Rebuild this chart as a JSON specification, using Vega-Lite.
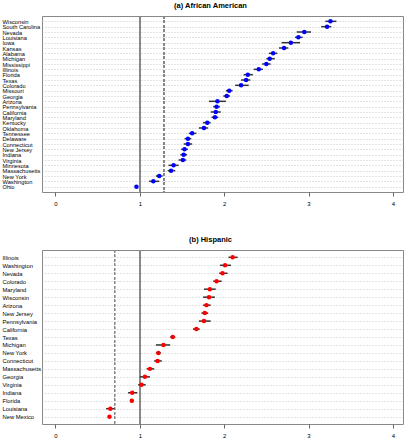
{
  "$schema": "https://vega.github.io/schema/vega-lite/v6.json",
  "background": "white",
  "padding": {"left": 1, "top": 1, "right": 4, "bottom": 0},
  "config": {
    "font": "Liberation Sans",
    "view": {"stroke": "#888888", "strokeWidth": 1},
    "title": {"fontSize": 7.5, "fontWeight": "bold", "color": "black", "anchor": "middle", "dx": -12, "offset": 6},
    "concat": {"spacing": 28}
  },
  "datasets": {
    "aa": [
      {"state": "Wisconsin", "est": 3.26, "lo": 3.20, "hi": 3.33},
      {"state": "South Carolina", "est": 3.22, "lo": 3.15, "hi": 3.27},
      {"state": "Nevada", "est": 2.95, "lo": 2.86, "hi": 3.03},
      {"state": "Louisiana", "est": 2.88, "lo": 2.84, "hi": 2.93},
      {"state": "Iowa", "est": 2.79, "lo": 2.68, "hi": 2.90},
      {"state": "Kansas", "est": 2.71, "lo": 2.65, "hi": 2.76},
      {"state": "Alabama", "est": 2.58, "lo": 2.53, "hi": 2.63},
      {"state": "Michigan", "est": 2.54, "lo": 2.50, "hi": 2.60},
      {"state": "Mississippi", "est": 2.50, "lo": 2.45, "hi": 2.55},
      {"state": "Illinois", "est": 2.41, "lo": 2.35, "hi": 2.46},
      {"state": "Florida", "est": 2.28, "lo": 2.23, "hi": 2.34},
      {"state": "Texas", "est": 2.26, "lo": 2.20, "hi": 2.31},
      {"state": "Colorado", "est": 2.20, "lo": 2.13, "hi": 2.29},
      {"state": "Missouri", "est": 2.06, "lo": 2.02, "hi": 2.10},
      {"state": "Georgia", "est": 2.03, "lo": 1.99, "hi": 2.07},
      {"state": "Arizona", "est": 1.92, "lo": 1.82, "hi": 2.02},
      {"state": "Pennsylvania", "est": 1.91, "lo": 1.87, "hi": 1.95},
      {"state": "California", "est": 1.90, "lo": 1.84, "hi": 1.96},
      {"state": "Maryland", "est": 1.89, "lo": 1.85, "hi": 1.93},
      {"state": "Kentucky", "est": 1.80, "lo": 1.75, "hi": 1.84},
      {"state": "Oklahoma", "est": 1.76, "lo": 1.70, "hi": 1.81},
      {"state": "Tennessee", "est": 1.62, "lo": 1.58, "hi": 1.67},
      {"state": "Delaware", "est": 1.57, "lo": 1.53, "hi": 1.61},
      {"state": "Connecticut", "est": 1.57, "lo": 1.52, "hi": 1.62},
      {"state": "New Jersey", "est": 1.53, "lo": 1.49, "hi": 1.57},
      {"state": "Indiana", "est": 1.52, "lo": 1.48, "hi": 1.56},
      {"state": "Virginia", "est": 1.51, "lo": 1.46, "hi": 1.55},
      {"state": "Minnesota", "est": 1.40, "lo": 1.34, "hi": 1.46},
      {"state": "Massachusetts", "est": 1.37, "lo": 1.33, "hi": 1.42},
      {"state": "New York", "est": 1.23, "lo": 1.19, "hi": 1.27},
      {"state": "Washington", "est": 1.16, "lo": 1.11, "hi": 1.23},
      {"state": "Ohio", "est": 0.96, "lo": 0.94, "hi": 0.98}
    ],
    "hisp": [
      {"state": "Illinois", "est": 2.10, "lo": 2.05, "hi": 2.16},
      {"state": "Washington", "est": 2.01, "lo": 1.95, "hi": 2.08},
      {"state": "Nevada", "est": 1.98, "lo": 1.94, "hi": 2.04},
      {"state": "Colorado", "est": 1.91, "lo": 1.87, "hi": 1.97},
      {"state": "Maryland", "est": 1.83, "lo": 1.76, "hi": 1.90},
      {"state": "Wisconsin", "est": 1.82, "lo": 1.75, "hi": 1.89},
      {"state": "Arizona", "est": 1.79, "lo": 1.75, "hi": 1.84},
      {"state": "New Jersey", "est": 1.77, "lo": 1.73, "hi": 1.81},
      {"state": "Pennsylvania", "est": 1.76, "lo": 1.70, "hi": 1.84},
      {"state": "California", "est": 1.67, "lo": 1.63, "hi": 1.71},
      {"state": "Texas", "est": 1.39, "lo": 1.36, "hi": 1.42},
      {"state": "Michigan", "est": 1.28, "lo": 1.19, "hi": 1.36},
      {"state": "New York", "est": 1.22, "lo": 1.19, "hi": 1.25},
      {"state": "Connecticut", "est": 1.21, "lo": 1.17, "hi": 1.26},
      {"state": "Massachusetts", "est": 1.12, "lo": 1.08, "hi": 1.17},
      {"state": "Georgia", "est": 1.06, "lo": 1.00, "hi": 1.12},
      {"state": "Virginia", "est": 1.02, "lo": 0.98, "hi": 1.07},
      {"state": "Indiana", "est": 0.91, "lo": 0.86, "hi": 0.97},
      {"state": "Florida", "est": 0.905, "lo": 0.89, "hi": 0.93},
      {"state": "Louisiana", "est": 0.65, "lo": 0.60, "hi": 0.70},
      {"state": "New Mexico", "est": 0.64, "lo": 0.62, "hi": 0.66}
    ]
  },
  "vconcat": [
    {
      "title": "(a) African American",
      "width": 361,
      "height": 176,
      "data": {"name": "aa"},
      "encoding": {
        "y": {
          "field": "state", "type": "nominal", "sort": null,
          "scale": {"type": "point", "padding": 1.07},
          "axis": {"title": null, "ticks": false, "domain": false, "labelAlign": "left", "labelPadding": 40, "labelFontSize": 5.7, "labelColor": "black", "labelBaseline": "middle", "grid": true, "gridDash": [1, 2], "gridColor": "#b8b8b8", "gridWidth": 0.8}
        }
      },
      "layer": [
        {"mark": {"type": "rule", "color": "#888888", "strokeWidth": 1}, "encoding": {"x": {"datum": 1, "type": "quantitative"}, "y": null}},
        {"mark": {"type": "rule", "color": "#888888", "strokeWidth": 1, "strokeDash": [2.5, 2]}, "encoding": {"x": {"datum": 1.29, "type": "quantitative"}, "y": null}},
        {
          "mark": {"type": "rule", "color": "#333333", "strokeWidth": 1.5},
          "encoding": {
            "x": {"field": "lo", "type": "quantitative", "scale": {"domain": [-0.16, 4.12], "nice": false, "zero": false},
              "axis": {"title": null, "values": [0, 1, 2, 3, 4], "format": "d", "domain": false, "grid": false, "tickColor": "#666666", "tickSize": 4, "labelFontSize": 6, "labelColor": "black", "labelPadding": 4}},
            "x2": {"field": "hi"}
          }
        },
        {"mark": {"type": "point", "shape": "circle", "filled": true, "color": "#0000FF", "opacity": 1, "size": 20}, "encoding": {"x": {"field": "est", "type": "quantitative"}}}
      ]
    },
    {
      "title": "(b) Hispanic",
      "width": 361,
      "height": 174,
      "data": {"name": "hisp"},
      "encoding": {
        "y": {
          "field": "state", "type": "nominal", "sort": null,
          "scale": {"type": "point", "padding": 0.92},
          "axis": {"title": null, "ticks": false, "domain": false, "labelAlign": "left", "labelPadding": 40, "labelFontSize": 5.8, "labelColor": "black", "labelBaseline": "middle", "grid": true, "gridDash": [1, 2], "gridColor": "#b8b8b8", "gridWidth": 0.8}
        }
      },
      "layer": [
        {"mark": {"type": "rule", "color": "#888888", "strokeWidth": 1}, "encoding": {"x": {"datum": 1, "type": "quantitative"}, "y": null}},
        {"mark": {"type": "rule", "color": "#888888", "strokeWidth": 1, "strokeDash": [2.5, 2]}, "encoding": {"x": {"datum": 0.70, "type": "quantitative"}, "y": null}},
        {
          "mark": {"type": "rule", "color": "#333333", "strokeWidth": 1.5},
          "encoding": {
            "x": {"field": "lo", "type": "quantitative", "scale": {"domain": [-0.16, 4.12], "nice": false, "zero": false},
              "axis": {"title": null, "values": [0, 1, 2, 3, 4], "format": "d", "domain": false, "grid": false, "tickColor": "#666666", "tickSize": 4, "labelFontSize": 6, "labelColor": "black", "labelPadding": 4}},
            "x2": {"field": "hi"}
          }
        },
        {"mark": {"type": "point", "shape": "circle", "filled": true, "color": "#FF0000", "opacity": 1, "size": 20}, "encoding": {"x": {"field": "est", "type": "quantitative"}}}
      ]
    }
  ]
}
